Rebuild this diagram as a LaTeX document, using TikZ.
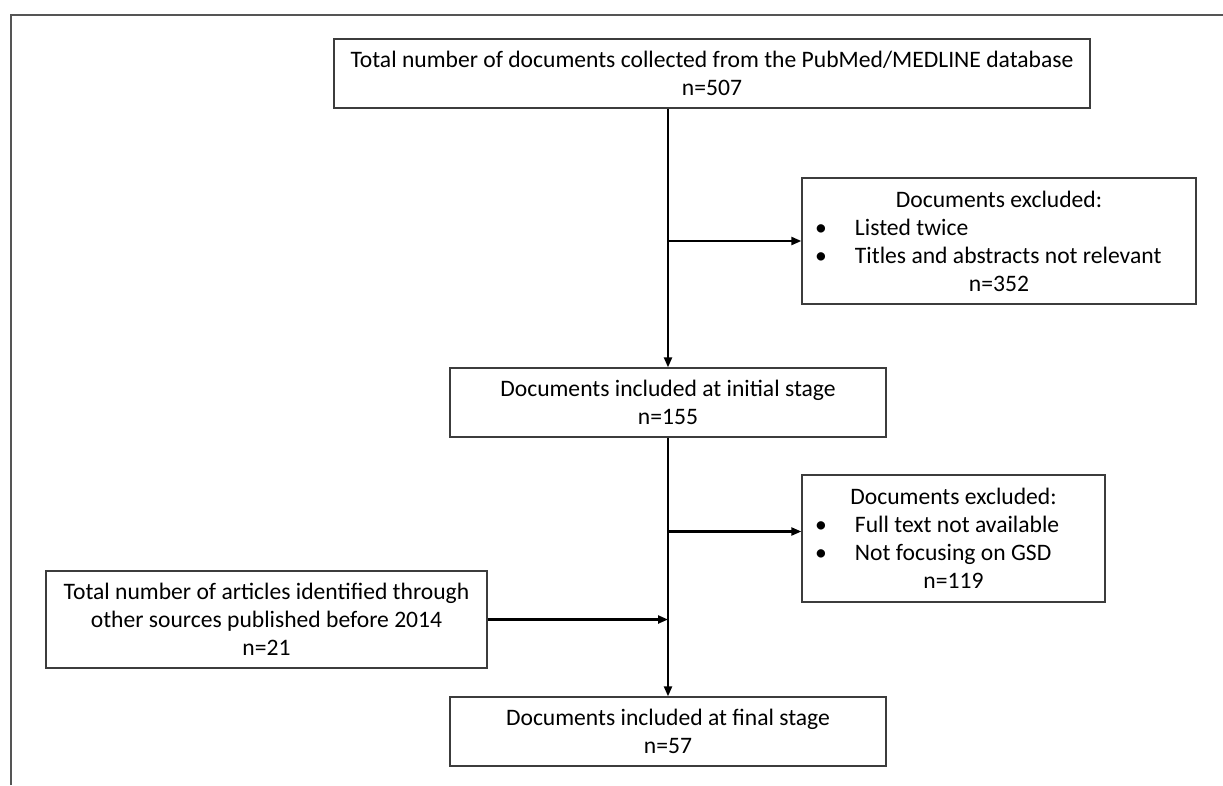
\documentclass[tikz,border=0pt]{standalone}
\usepackage{fontspec}
\setmainfont{Carlito}
\usepackage{tikz}
\usetikzlibrary{arrows.meta,calc,positioning}
\definecolor{Frame}{HTML}{555555}
\definecolor{Edge}{HTML}{3C3C3C}
\tikzset{
  box/.style={draw=Edge,line width=1.3pt,inner sep=0pt,align=center,
              font=\fontsize{23.6}{28}\selectfont},
  flow/.style={-{Triangle[length=10pt,width=8pt]},line width=2.2pt}
}
\newcommand{\bitem}[2]{\makebox[#1pt][l]{\hspace*{13pt}\makebox[40pt][l]{\textbullet}#2}}

\begin{document}
\begin{tikzpicture}[x=1pt,y=-1pt]
  \useasboundingbox (0,0) rectangle (1223,785);
  \draw[Frame,line width=2pt] (11,785) -- (11,14.7) -- (1223,14.7);

  \node[box,minimum width=756pt,minimum height=69pt] (total) at (712,73.5)
    {Total number of documents collected from the PubMed/MEDLINE database\\n=507};
  \node[box,minimum width=394pt,minimum height=126pt] (excl1) at (999,241)
    {Documents excluded:\\\bitem{394}{Listed twice}\\\bitem{394}{Titles and abstracts not relevant}\\n=352};
  \node[box,minimum width=436pt,minimum height=69pt] (initial) at (668,402.5)
    {Documents included at initial stage\\n=155};
  \node[box,minimum width=303pt,minimum height=127pt] (excl2) at (953.5,538.5)
    {Documents excluded:\\\bitem{303}{Full text not available}\\\bitem{303}{Not focusing on GSD}\\n=119};
  \node[box,minimum width=441pt,minimum height=97pt] (other) at (266.5,619.5)
    {Total number of articles identified through\\other sources published before 2014\\n=21};
  \node[box,minimum width=436pt,minimum height=69pt] (final) at (668,731.5)
    {Documents included at final stage\\n=57};
  \coordinate (in2) at ([yshift=7pt]excl2.west);

  \draw[flow] (total.south -| initial.north) -- (initial.north);
  \draw[flow] (initial.north |- excl1.west) -- (excl1.west);
  \draw[flow] (initial.south) -- (final.north);
  \draw[flow] (initial.south |- in2) -- (in2);
  \draw[flow] (other.east) -- (other.east -| final.north);
\end{tikzpicture}
\end{document}
